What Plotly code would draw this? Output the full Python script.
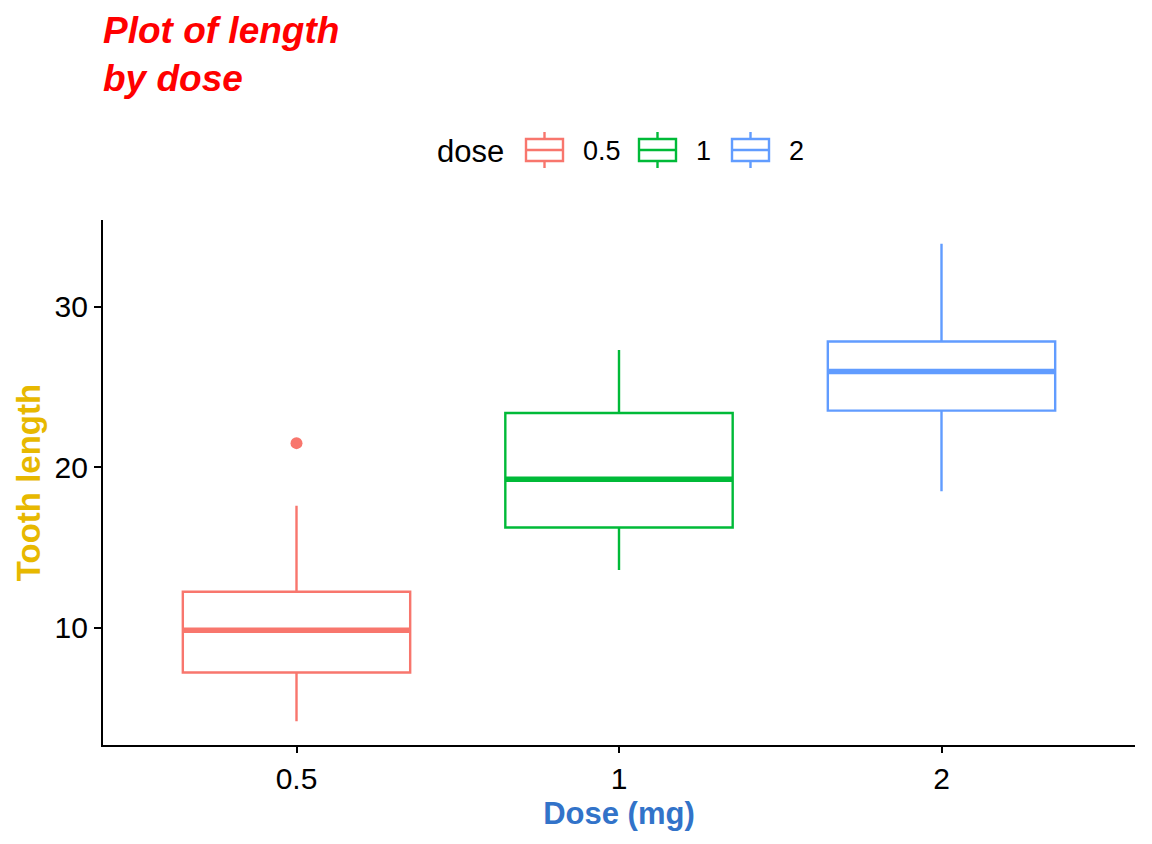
import numpy as np
import plotly.graph_objects as go

doses = ["0.5", "1", "2"]
colors = ["#F8766D", "#00BA38", "#619CFF"]
len_05 = [4.2, 11.5, 7.3, 5.8, 6.4, 10, 11.2, 11.2, 5.2, 7, 15.2, 21.5, 17.6, 9.7, 14.5, 10, 8.2, 9.4, 16.5, 9.7]
len_1 = [16.5, 16.5, 15.2, 17.3, 22.5, 17.3, 13.6, 14.5, 18.8, 15.5, 19.7, 23.3, 23.6, 26.4, 20, 25.2, 25.8, 21.2, 14.5, 27.3]
len_2 = [23.6, 18.5, 33.9, 25.5, 26.4, 32.5, 26.7, 21.5, 23.3, 29.5, 25.5, 26.4, 22.4, 24.5, 24.8, 30.9, 26.4, 27.3, 29.4, 23]
y_ticks = [10, 20, 30]

data = [len_05, len_1, len_2]
BW = 0.705
FONT = "Liberation Sans, Arial, sans-serif"

# plot area in pixels (for paper-coordinate layout helpers)
L, R, T, B = 103, 1135, 220, 745
def px(x):
    return (x - L) / (R - L)
def py(y):
    return (B - y) / (B - T)

fig = go.Figure()
for i, (d, c, vals) in enumerate(zip(doses, colors, data)):
    v = np.array(vals, dtype=float)
    q1, med, q3 = np.percentile(v, [25, 50, 75])
    iqr = q3 - q1
    inside = v[(v >= q1 - 1.5 * iqr) & (v <= q3 + 1.5 * iqr)]
    lo, hi = inside.min(), inside.max()
    out = v[(v < q1 - 1.5 * iqr) | (v > q3 + 1.5 * iqr)]
    fig.add_trace(go.Box(
        x=[i], q1=[q1], median=[med], q3=[q3], lowerfence=[lo], upperfence=[hi],
        name=d, width=BW, whiskerwidth=0,
        fillcolor="rgba(255,255,255,0)", line=dict(color=c, width=2.4),
        boxpoints=False, hoverinfo="skip", showlegend=False))
    fig.add_trace(go.Scatter(
        x=[i - BW / 2, i + BW / 2], y=[med, med], mode="lines",
        line=dict(color=c, width=5.5), showlegend=False, hoverinfo="skip"))
    if len(out):
        fig.add_trace(go.Scatter(
            x=[i] * len(out), y=out, mode="markers",
            marker=dict(color=c, size=12), showlegend=False, hoverinfo="skip"))

# custom legend (ggplot-style box keys)
shapes = []
annotations = []
annotations.append(dict(text="dose", xref="paper", yref="paper", x=px(435), y=py(151),
                        xanchor="left", yanchor="middle", showarrow=False,
                        font=dict(size=31, color="black", family=FONT)))
key_x = [526, 639, 732]
for d, c, kx in zip(doses, colors, key_x):
    x0, x1 = px(kx), px(kx + 37)
    xm = px(kx + 18.5)
    shapes.append(dict(type="rect", xref="paper", yref="paper", x0=x0, x1=x1,
                       y0=py(161), y1=py(139), line=dict(color=c, width=2.4)))
    shapes.append(dict(type="line", xref="paper", yref="paper", x0=x0, x1=x1,
                       y0=py(150), y1=py(150), line=dict(color=c, width=2.4)))
    shapes.append(dict(type="line", xref="paper", yref="paper", x0=xm, x1=xm,
                       y0=py(139), y1=py(132), line=dict(color=c, width=2.4)))
    shapes.append(dict(type="line", xref="paper", yref="paper", x0=xm, x1=xm,
                       y0=py(161), y1=py(168), line=dict(color=c, width=2.4)))
    annotations.append(dict(text=d, xref="paper", yref="paper", x=px(kx + 55), y=py(151),
                            xanchor="left", yanchor="middle", showarrow=False,
                            font=dict(size=27, color="black", family=FONT)))

annotations.append(dict(text="<b><i>Plot of length<br>by dose</i></b>", xref="paper", yref="paper",
                        x=px(101), y=py(8), xanchor="left", yanchor="top", align="left",
                        showarrow=False, font=dict(size=37, color="#FF0000", family=FONT)))

fig.update_layout(
    width=1152, height=844,
    paper_bgcolor="white", plot_bgcolor="white",
    font=dict(family=FONT, color="black"),
    margin=dict(l=L, r=1152 - R, t=T, b=844 - B),
    showlegend=False,
    shapes=shapes, annotations=annotations,
)
fig.update_xaxes(
    range=[-0.6, 2.6], tickmode="array", tickvals=[0, 1, 2], ticktext=doses,
    showline=True, linecolor="black", linewidth=2.2, ticks="outside", ticklen=6,
    tickwidth=2, tickcolor="black", tickfont=dict(size=30, color="black"),
    showgrid=False, zeroline=False,
    title=dict(text="<b>Dose (mg)</b>", font=dict(size=31, color="#3273C9"), standoff=8))
fig.update_yaxes(
    range=[2.715, 35.385], tickmode="array", tickvals=y_ticks,
    showline=True, linecolor="black", linewidth=2.2, ticks="outside", ticklen=7,
    tickwidth=2, tickcolor="black", tickfont=dict(size=30, color="black"),
    showgrid=False, zeroline=False,
    title=dict(text="<b>Tooth length</b>", font=dict(size=33, color="#E7B800"), standoff=4))

fig.write_html("out.html")
